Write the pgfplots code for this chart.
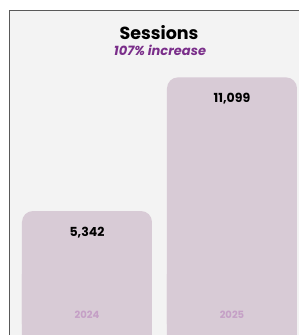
\documentclass[border=0pt]{standalone}
\usepackage{pgfplots}
\pgfplotsset{compat=1.18}
\usepackage{fontspec}
\setmainfont{Poppins}
\definecolor{bgc}{HTML}{F3F3F3}
\definecolor{barc}{HTML}{D8CBD6}
\definecolor{yearc}{HTML}{C5A0C6}
\definecolor{purp}{HTML}{7A2E8A}
\begin{document}
\begin{tikzpicture}[x=1pt,y=1pt]
\useasboundingbox (0,0) rectangle (299,335);
\fill[white] (0,0) rectangle (299,335);
\filldraw[fill=bgc, draw=black!65, line width=0.9pt] (9,-5) rectangle (305,325);
\pgfplotsset{
  mybase/.style={
    at={(0,0)}, anchor=south west,
    scale only axis, width=299pt,
    xmin=-0.6, xmax=1.4621, ymin=0,
    axis lines=none, xtick=\empty, ytick=\empty,
    ybar, bar width=130pt, clip=true,
  }
}
\begin{axis}[mybase, height=335pt, ymax=14433,
  nodes near coords,
  /pgf/number format/1000 sep={,},
  /pgf/number format/assume math mode=true,
  every node near coord/.append style={anchor=base, yshift=-25pt, font=\fontsize{12.5}{14}\selectfont\bfseries, text=black},
]
\addplot[fill=barc, draw=none, rounded corners=11pt] coordinates {(0,5342) (1,11099)};
\end{axis}
\begin{axis}[mybase, height=60pt, ymax=2585]
\addplot[fill=barc, draw=none, sharp corners] coordinates {(0,5342) (1,11099)};
\end{axis}
\begin{axis}[mybase, height=335pt, ymax=14433]
\node[anchor=base, text=yearc, font=\fontsize{10}{11}\selectfont\bfseries] at (axis cs:0,690) {2024};
\node[anchor=base, text=yearc, font=\fontsize{10}{11}\selectfont\bfseries] at (axis cs:1,690) {2025};
\end{axis}
\node[anchor=base, font=\fontsize{17.5}{20}\selectfont\bfseries] at (159,295) {Sessions};
\node[anchor=base, text=purp, font=\fontsize{13}{15}\selectfont\bfseries\itshape] at (160,279.5) {107\% increase};
\end{tikzpicture}
\end{document}
